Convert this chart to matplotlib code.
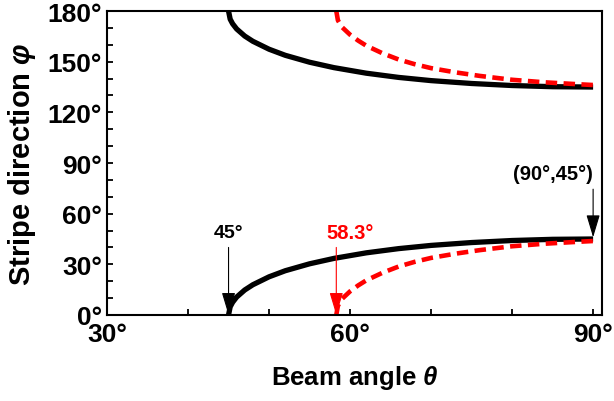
import matplotlib
matplotlib.use('Agg')
import matplotlib.pyplot as plt
from matplotlib.ticker import MultipleLocator

# 数据：曲线点（单位：度）
theta_black = [45, 45.2, 45.5, 46, 47, 48, 50, 52, 55, 58, 62, 66, 70, 75, 80, 85, 90]
phi_black_low = [0, 4.8, 7.5, 10.6, 14.8, 17.9, 22.6, 26.2, 30.3, 33.5, 36.8, 39.3, 41.2, 42.9, 44.1, 44.8, 45]
phi_black_up = [180, 175.2, 172.5, 169.4, 165.2, 162.1, 157.4, 153.8, 149.7, 146.5, 143.2, 140.7, 138.8, 137.1, 135.9, 135.2, 135]

theta_red = [58.3, 58.5, 59, 60, 61, 62, 64, 66, 68, 70, 73, 76, 80, 84, 88, 90]
phi_red_low = [0, 5.5, 9.5, 14, 17.5, 20.5, 25, 28.7, 31.5, 33.8, 36.3, 38.4, 40.7, 42.2, 43.3, 43.8]
phi_red_up = [180, 174.5, 170.5, 166, 162.5, 159.5, 155, 151.3, 148.5, 146.2, 143.7, 141.6, 139.3, 137.8, 136.7, 136.2]

plt.rcParams['font.family'] = ['Liberation Sans', 'DejaVu Sans']
plt.rcParams['font.weight'] = 'bold'
plt.rcParams['mathtext.fontset'] = 'custom'
plt.rcParams['mathtext.it'] = 'Liberation Sans:italic:bold'
plt.rcParams['mathtext.rm'] = 'Liberation Sans:bold'

fig = plt.figure(figsize=(6.14, 4.02), dpi=100)
ax = fig.add_axes([0.1743, 0.214, 0.8062, 0.756])

# 曲线
ax.plot(theta_black, phi_black_low, color='black', lw=3.8, solid_capstyle='butt')
ax.plot(theta_black, phi_black_up, color='black', lw=3.8, solid_capstyle='butt')
ax.plot(theta_red, phi_red_low, color='#ff0000', lw=3.3, dashes=(2.5, 1.4))
ax.plot(theta_red, phi_red_up, color='#ff0000', lw=3.3, dashes=(2.5, 1.4))

# 箭头标注
arrow_style = '-|>,head_length=1.4,head_width=0.42'
ax.annotate('', xy=(45, 0), xytext=(45, 40),
            arrowprops=dict(arrowstyle=arrow_style, color='black', lw=0.8,
                            mutation_scale=10, shrinkA=0, shrinkB=0))
ax.text(45, 49, '45°', ha='center', va='center', fontsize=14, fontweight='bold', color='black')

ax.annotate('', xy=(58.3, 0), xytext=(58.3, 40),
            arrowprops=dict(arrowstyle=arrow_style, color='#ff0000', lw=0.8,
                            mutation_scale=10, shrinkA=0, shrinkB=0))
ax.text(60, 49, '58.3°', ha='center', va='center', fontsize=14.5, fontweight='bold', color='#ff0000')

ax.annotate('', xy=(90, 46), xytext=(90, 74.5),
            arrowprops=dict(arrowstyle=arrow_style, color='black', lw=0.8,
                            mutation_scale=10, shrinkA=0, shrinkB=0))
ax.text(85, 83.5, '(90°,45°)', ha='center', va='center', fontsize=14.5, fontweight='bold', color='black')

# 坐标轴
ax.set_xlim(30, 91.1)
ax.set_ylim(0, 180)
ax.set_xticks([30, 60, 90])
ax.set_xticklabels(['30°', '60°', '90°'])
ax.xaxis.set_minor_locator(MultipleLocator(10))
ax.set_yticks([0, 30, 60, 90, 120, 150, 180])
ax.set_yticklabels(['0°', '30°', '60°', '90°', '120°', '150°', '180°'])
ax.yaxis.set_minor_locator(MultipleLocator(10))
ax.tick_params(which='both', direction='in', length=4, width=1.3, labelsize=19)
ax.tick_params(axis='x', pad=5)
ax.tick_params(axis='y', pad=3.5)
for s in ax.spines.values():
    s.set_linewidth(1.5)

ax.set_xlabel(r'Beam angle $\theta$', fontsize=18.5, fontweight='bold', labelpad=12)
ax.set_ylabel(r'Stripe direction $\varphi$', fontsize=21, fontweight='bold', labelpad=7)

fig.savefig('out.png', dpi=100)
